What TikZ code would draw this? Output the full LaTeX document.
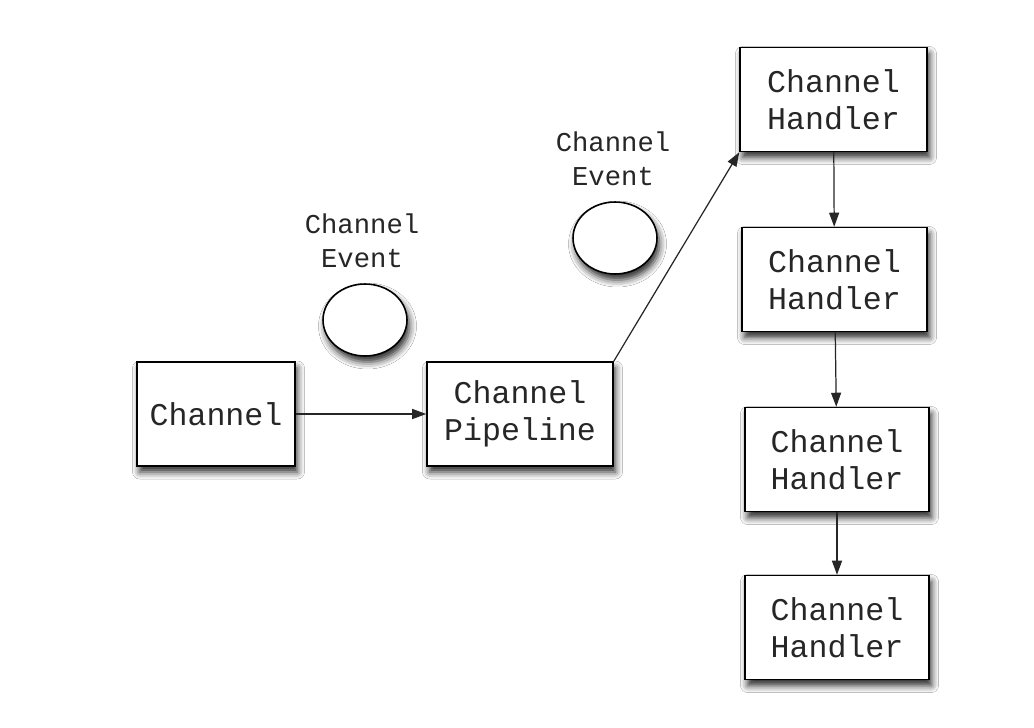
\documentclass[tikz,border=0pt]{standalone}
\usepackage{fontspec}
\setmonofont{Liberation Mono}
\usetikzlibrary{arrows.meta,shapes.geometric,shadows.blur}
\tikzset{
  box/.style={draw=black, line width=0.9pt, fill=white, minimum height=2.08cm,
    align=center, font=\ttfamily\fontsize{18}{21}\selectfont, text=black!85,
    blur shadow={shadow xshift=0.05cm, shadow yshift=-0.12cm, shadow blur radius=0.14cm, shadow opacity=85}},
  event/.style={draw=black, line width=0.9pt, fill=white, ellipse, minimum width=1.68cm, minimum height=1.44cm,
    blur shadow={shadow xshift=0.05cm, shadow yshift=-0.12cm, shadow blur radius=0.14cm, shadow opacity=85}},
  evlabel/.style={align=center, font=\ttfamily\fontsize{15.5}{19.3}\selectfont, text=black!85},
  flow/.style={-{Triangle[length=2.8mm, width=2mm]}, line width=0.7pt, draw=black!85}
}
\begin{document}
\begin{tikzpicture}[x=0.02cm, y=-0.02cm]
  %%%%% START %%%%%
  \useasboundingbox[fill=white] (0, 0) rectangle (1034, 727);

  \node[box, minimum width=3.16cm] (chan) at (216, 414) {Channel};
  \node[box, minimum width=3.72cm] (pipe) at (520, 414) {Channel\\Pipeline};

  \node[box, minimum width=3.74cm] (h1) at (833.5, 99.5) {Channel\\Handler};
  \node[box, minimum width=3.70cm] (h2) at (834.5, 279.5) {Channel\\Handler};
  \node[box, minimum width=3.68cm] (h3) at (837, 459.5) {Channel\\Handler};
  \node[box, minimum width=3.68cm] (h4) at (837, 627.5) {Channel\\Handler};

  \node[event] (ev1) at (365, 320) {};
  \node[evlabel] (ev1lbl) at (362, 241) {Channel\\Event};
  \node[event] (ev2) at (615, 238) {};
  \node[evlabel] (ev2lbl) at (613, 159) {Channel\\Event};

  \draw[flow] (chan) -- (pipe);
  \draw[flow] (pipe.north east) -- (h1.south west);
  \draw[flow] (h1) -- (h2);
  \draw[flow] (h2) -- (h3);
  \draw[flow] (h3) -- (h4);
  %%%%% END %%%%%
\end{tikzpicture}
\end{document}
